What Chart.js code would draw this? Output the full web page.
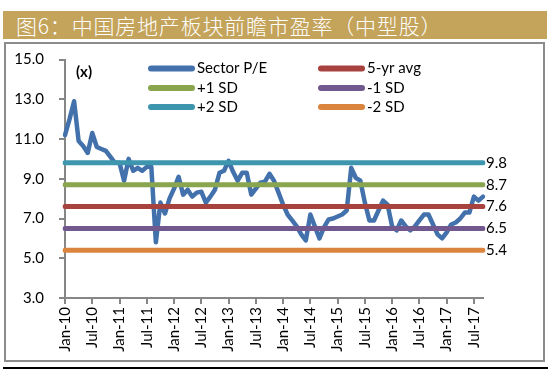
<!DOCTYPE html>
<html>
<head>
<meta charset="utf-8">
<script src="https://cdn.jsdelivr.net/npm/chart.js@4.4.1/dist/chart.umd.min.js"></script>
<style>
html,body{margin:0;padding:0;background:#fff;width:553px;height:373px;overflow:hidden;}
#banner{position:absolute;left:3px;top:11px;width:544px;height:28px;background:#C4A35A;}
#title{position:absolute;left:16px;top:11px;height:28px;line-height:28px;color:#fff;font-family:"Noto Sans CJK SC",sans-serif;font-weight:300;font-size:21px;letter-spacing:0.8px;white-space:nowrap;}
#frame{position:absolute;left:4px;top:42px;width:537px;height:316px;border:2px solid #8c8c8c;}
#rule{position:absolute;left:3px;top:367px;width:545px;height:2px;background:#000;}
#c{position:absolute;left:0;top:0;}
</style>
</head>
<body>
<div id="banner"></div>
<div id="title">图6：中国房地产板块前瞻市盈率（中型股）</div>
<div id="frame"></div>
<div id="rule"></div>
<canvas id="c" width="553" height="373"></canvas>
<script>
// ---- data ----
const monthNames = ['Jan','Feb','Mar','Apr','May','Jun','Jul','Aug','Sep','Oct','Nov','Dec'];
const years = ['10','11','12','13','14','15','16','17'];
const categories = [];
years.forEach(y => monthNames.forEach(m => categories.push(m + '-' + y)));
categories.length = 93; // Jan-10 .. Sep-17

const sectorPE = [
  11.2, 12.0, 12.9, 10.9, 10.65, 10.3, 11.3, 10.6, 10.5, 10.4, 10.1, 9.8,
  9.8, 8.9, 10.0, 9.4, 9.55, 9.4, 9.6, 9.6, 5.8, 7.8, 7.25, 8.0,
  8.5, 9.1, 8.2, 8.45, 8.1, 8.3, 8.35, 7.8, 8.1, 8.45, 9.3, 9.4,
  9.9, 9.35, 8.9, 9.3, 9.3, 8.2, 8.5, 8.8, 8.85, 9.25, 8.9, 8.3,
  7.7, 7.2, 6.9, 6.6, 6.2, 5.9, 7.2, 6.6, 6.0, 6.55, 6.95, 7.0,
  7.1, 7.2, 7.4, 9.55, 9.05, 8.9, 7.8, 6.9, 6.9, 7.4, 7.9, 7.7,
  6.6, 6.4, 6.9, 6.6, 6.4, 6.6, 6.9, 7.2, 7.2, 6.7, 6.2, 6.0,
  6.3, 6.7, 6.8, 7.0, 7.3, 7.3, 8.1, 7.9, 8.1
];

const refNames  = ['5-yr avg', '+1 SD', '-1 SD', '+2 SD', '-2 SD'];
const refValues = [7.6, 8.7, 6.5, 9.8, 5.4];
const refColors = ['#A8423F', '#89A54E', '#71588F', '#3D96AE', '#DB843D'];
const peColor = '#4271AB';

const yTicks = [3, 5, 7, 9, 11, 13, 15];

// ---- chart ----
const FONT = 'Lato, "Open Sans", sans-serif';

const datasets = [{
  label: 'Sector P/E', data: sectorPE, borderColor: peColor, borderWidth: 4.5,
  pointRadius: 0, tension: 0, order: 1, borderJoinStyle: 'round', borderCapStyle: 'round', fill: false
}];
refNames.forEach((n, i) => {
  datasets.push({
    label: n, data: categories.map(() => refValues[i]), borderColor: refColors[i], borderWidth: 5,
    pointRadius: 0, order: 0, borderCapStyle: 'round', fill: false
  });
});

const overlay = {
  id: 'overlay',
  afterDraw(chart) {
    const ctx = chart.ctx;
    const ys = chart.scales.y;
    const area = chart.chartArea;
    ctx.save();
    // right value labels
    ctx.font = '15px ' + FONT;
    ctx.fillStyle = '#000';
    ctx.textBaseline = 'middle';
    ctx.textAlign = 'left';
    refValues.forEach(v => {
      ctx.fillText(v.toFixed(1), area.right + 3, ys.getPixelForValue(v));
    });
    // (x)
    ctx.font = 'bold 15px ' + FONT;
    ctx.fillText('(x)', area.left + 11, area.top + 13);
    // legend
    const items = [['Sector P/E', peColor]].concat(refNames.map((n, i) => [n, refColors[i]]));
    const colX = [area.left + 83, area.left + 253];
    const rowY = [area.top + 9, area.top + 28.5, area.top + 47.5];
    ctx.font = '15px ' + FONT;
    ctx.lineCap = 'round';
    ctx.lineWidth = 6;
    items.forEach((it, k) => {
      const c = k % 2, r = Math.floor(k / 2);
      const x = colX[c], y = rowY[r];
      ctx.strokeStyle = it[1];
      ctx.beginPath();
      ctx.moveTo(x + 3, y);
      ctx.lineTo(x + 44, y);
      ctx.stroke();
      ctx.fillStyle = '#000';
      ctx.fillText(it[0], x + 49, y);
    });
    ctx.restore();
  }
};

new Chart(document.getElementById('c'), {
  type: 'line',
  data: { labels: categories, datasets: datasets },
  options: {
    responsive: false,
    animation: false,
    devicePixelRatio: 1,
    layout: { padding: { left: 0, right: 70, top: 59.5, bottom: 15 } },
    plugins: { legend: { display: false }, tooltip: { enabled: false }, title: { display: false } },
    elements: { line: { capBezierPoints: false } },
    scales: {
      x: {
        type: 'category',
        offset: false,
        grid: { display: true, drawOnChartArea: false, drawTicks: true, tickLength: 6, color: '#868686', lineWidth: 2 },
        border: { display: true, color: '#868686', width: 2 },
        ticks: {
          autoSkip: false, maxRotation: 90, minRotation: 90, padding: 3, color: '#000',
          font: { family: FONT, size: 15 },
          callback: (v, i) => (i % 6 === 0 ? categories[i] : null)
        },
        afterFit: s => { s.height = 60; }
      },
      y: {
        min: 3, max: 15,
        afterBuildTicks: s => { s.ticks = yTicks.map(v => ({ value: v })); },
        grid: { display: true, drawOnChartArea: false, drawTicks: true, tickLength: 6, color: '#868686', lineWidth: 2 },
        border: { display: true, color: '#868686', width: 2 },
        ticks: { padding: 15, color: '#000', font: { family: FONT, size: 15 }, callback: v => Number(v).toFixed(1) },
        afterFit: s => { s.width = 65; }
      }
    }
  },
  plugins: [overlay]
});
</script>
</body>
</html>
